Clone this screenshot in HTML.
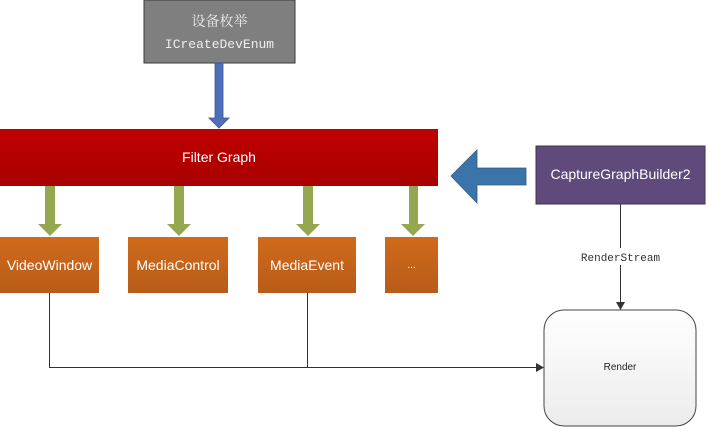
<!DOCTYPE html>
<html><head><meta charset="utf-8"><style>body{margin:0;background:#fff}</style></head><body>
<svg width="708" height="427" xmlns="http://www.w3.org/2000/svg" style="display:block">
<defs>
<linearGradient id="r" x1="0" y1="0" x2="0" y2="1"><stop offset="0" stop-color="#c00000"/><stop offset="1" stop-color="#a80000"/></linearGradient>
<linearGradient id="o" x1="0" y1="0" x2="0" y2="1"><stop offset="0" stop-color="#d06a1c"/><stop offset="1" stop-color="#b85c18"/></linearGradient>
<linearGradient id="w" x1="0" y1="0" x2="0" y2="1"><stop offset="0" stop-color="#fff"/><stop offset="1" stop-color="#ececec"/></linearGradient>
</defs>
<rect x="144" y="0" width="151" height="63" fill="#7f7f7f" stroke="#3a3a3a" stroke-width="1"/>
<text x="219.5" y="26" fill="#eee" font-family="Noto Serif CJK SC, serif" font-size="14" text-anchor="middle">设备枚举</text>
<text x="219.5" y="48" fill="#eee" font-family="Liberation Mono, monospace" font-size="13" text-anchor="middle">ICreateDevEnum</text>
<polygon points="215,63 223,63 223,118 229,118 219,128 209,118 215,118" fill="#4f6fba" stroke="#3a5495" stroke-width="0.8"/>
<rect x="0" y="129" width="438" height="57" fill="url(#r)"/>
<text x="219" y="162" fill="#fff" font-family="Liberation Sans, sans-serif" font-size="14" text-anchor="middle">Filter Graph</text>
<g fill="#94a850">
<polygon points="45,186 55,186 55,224 62,224 50,236 38,224 45,224"/>
<polygon points="174,186 184,186 184,224 191,224 179,236 167,224 174,224"/>
<polygon points="303,186 313,186 313,224 320,224 308,236 296,224 303,224"/>
<polygon points="409,186 418,186 418,224 425,224 413,236 401,224 409,224"/>
</g>
<g fill="url(#o)">
<rect x="0" y="237" width="99" height="56"/>
<rect x="128" y="237" width="100" height="56"/>
<rect x="258" y="237" width="98" height="56"/>
<rect x="385" y="237" width="53" height="56"/>
</g>
<g fill="#fff" font-family="Liberation Sans, sans-serif" font-size="14" text-anchor="middle">
<text x="49.5" y="270">VideoWindow</text>
<text x="178" y="270">MediaControl</text>
<text x="307" y="270">MediaEvent</text>
<text x="411.5" y="268" font-size="10">...</text>
</g>
<rect x="536" y="146" width="169" height="58" fill="#604a7b" stroke="#3f3050" stroke-width="1"/>
<text x="620.5" y="179" fill="#fff" font-family="Liberation Sans, sans-serif" font-size="14" text-anchor="middle">CaptureGraphBuilder2</text>
<polygon points="526,168 526,185 477,185 477,203 451,176 477,150 477,168" fill="#3b74a8" stroke="#2e5b85" stroke-width="0.8"/>
<line x1="620.5" y1="204" x2="620.5" y2="248" stroke="#333"/>
<line x1="620.5" y1="265" x2="620.5" y2="302" stroke="#333"/>
<polygon points="616,302 625,302 620.5,310" fill="#333"/>
<text x="620.5" y="261" fill="#333" font-family="Liberation Mono, monospace" font-size="11" text-anchor="middle">RenderStream</text>
<rect x="544" y="310" width="152" height="116" rx="20" fill="url(#w)" stroke="#444"/>
<text x="620" y="370" fill="#222" font-family="Liberation Sans, sans-serif" font-size="10" text-anchor="middle">Render</text>
<polyline points="49.5,293 49.5,367.5 537,367.5" fill="none" stroke="#333"/>
<line x1="307.5" y1="293" x2="307.5" y2="367.5" stroke="#333"/>
<polygon points="536,363 544,367.5 536,372" fill="#333"/>
</svg>
</body></html>
